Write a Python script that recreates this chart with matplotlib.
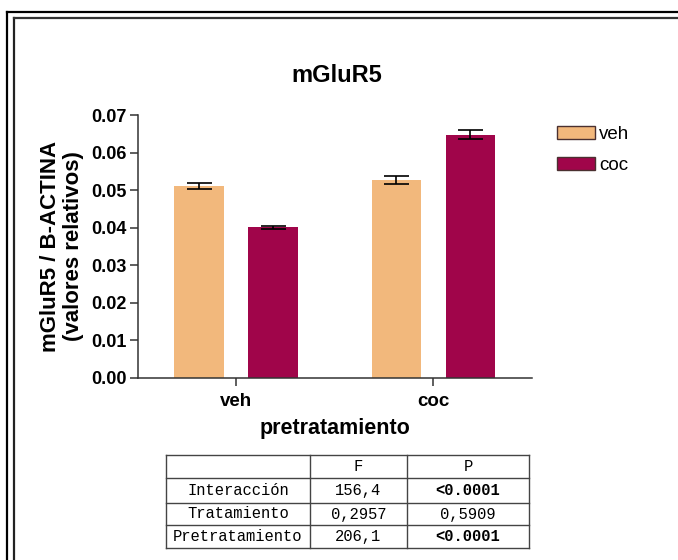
import matplotlib
matplotlib.use("Agg")
import matplotlib.pyplot as plt
from matplotlib.lines import Line2D
import numpy as np

# --- data ---
groups = ["veh", "coc"]                 # pretratamiento
series = ["veh", "coc"]                 # tratamiento
means_veh = [0.0511, 0.0527]
means_coc = [0.0401, 0.0648]
sem_veh = [0.0009, 0.0011]
sem_coc = [0.00045, 0.0013]
colors = ["#F2B87C", "#A0054A"]

table_header = ["", "F", "P"]
table_rows = ["Interacción", "Tratamiento", "Pretratamiento"]
table_F = ["156,4", "0,2957", "206,1"]
table_P = ["<0.0001", "0,5909", "<0.0001"]
table_P_bold = [True, False, True]

W, H = 678, 560
plt.rcParams["font.family"] = ["Liberation Sans", "DejaVu Sans"]

fig = plt.figure(figsize=(W / 100, H / 100), dpi=100)


def fx(x):
    return x / W


def fy(y):
    return 1 - y / H


ax = fig.add_axes([fx(137.5), fy(377.7), fx(532) - fx(137.5), fy(115) - fy(377.7)])

x = np.arange(len(groups))
width = 0.25
offset = 0.1875
ekw = dict(ecolor="black", elinewidth=1.2, capsize=9, capthick=1.2)
ax.bar(x - offset, means_veh, width, color=colors[0], label=series[0],
       yerr=sem_veh, error_kw=ekw, zorder=2)
ax.bar(x + offset, means_coc, width, color=colors[1], label=series[1],
       yerr=sem_coc, error_kw=ekw, zorder=2)

ax.set_xlim(-0.5, 1.5)
ax.set_ylim(0, 0.07)
ax.set_yticks(np.arange(0, 0.0701, 0.01))
ax.set_yticklabels([f"{v:.2f}" for v in np.arange(0, 0.0701, 0.01)],
                   fontsize=13, fontweight="bold")
ax.set_xticks(x)
ax.set_xticklabels(groups, fontsize=13.5, fontweight="bold")

for s in ["top", "right"]:
    ax.spines[s].set_visible(False)
for s in ["left", "bottom"]:
    ax.spines[s].set_color("#333333")
    ax.spines[s].set_linewidth(1.1)
ax.tick_params(axis="y", length=6, width=1.1, color="#333333", pad=2)
ax.tick_params(axis="x", length=6, width=1.1, color="#333333", pad=5)

ax.set_xlabel("pretratamiento", fontsize=15.5, fontweight="bold", labelpad=6)
ax.set_ylabel("mGluR5 / B-ACTINA\n(valores relativos)", fontsize=16,
              fontweight="bold", linespacing=1.15, labelpad=5)

fig.text(fx(337), fy(75), "mGluR5", ha="center", va="center",
         fontsize=17, fontweight="bold")

leg = ax.legend(loc="upper left", bbox_to_anchor=(fx(557), fy(126)),
                bbox_transform=fig.transFigure, frameon=False, fontsize=13.5,
                handlelength=2.0, handleheight=0.7, handletextpad=0.25,
                labelspacing=0.72, borderpad=0, borderaxespad=0)
for p in leg.get_patches():
    p.set_edgecolor("#4a3030")
    p.set_linewidth(1.0)

# --- outer double frame ---
frame = [
    ((7, 7), (11.5, H)), ((13.5, 13.5), (17.5, H)),
    ((7, W), (11.5, 11.5)), ((13.5, W), (17.5, 17.5)),
]
for (xs, ys), c in zip(frame, ["black", "#222222", "black", "#333333"]):
    fig.add_artist(Line2D([fx(v) for v in xs], [fy(v) for v in ys],
                          color=c, lw=1.6, transform=fig.transFigure))

# --- ANOVA table ---
col_x = [166, 310, 407, 529]
row_y = [455, 478, 503, 525, 548]
line_c = "#444444"
for cx in col_x:
    fig.add_artist(Line2D([fx(cx), fx(cx)], [fy(row_y[0]), fy(row_y[-1])],
                          color=line_c, lw=1.0, transform=fig.transFigure))
for ry in row_y:
    fig.add_artist(Line2D([fx(col_x[0]), fx(col_x[-1])], [fy(ry), fy(ry)],
                          color=line_c, lw=1.0, transform=fig.transFigure))

mono = dict(family="Liberation Mono", fontsize=11.2, ha="center", va="center")
centers = [(col_x[i] + col_x[i + 1]) / 2 for i in range(3)]
for i, h in enumerate(table_header):
    fig.text(fx(centers[i]), fy((row_y[0] + row_y[1]) / 2), h, **mono)
for r in range(len(table_rows)):
    yc = fy((row_y[r + 1] + row_y[r + 2]) / 2)
    fig.text(fx(centers[0]), yc, table_rows[r], **mono)
    fig.text(fx(centers[1]), yc, table_F[r], **mono)
    fig.text(fx(centers[2]), yc, table_P[r],
             fontweight="bold" if table_P_bold[r] else "normal", **mono)

fig.savefig("out.png", dpi=100)
